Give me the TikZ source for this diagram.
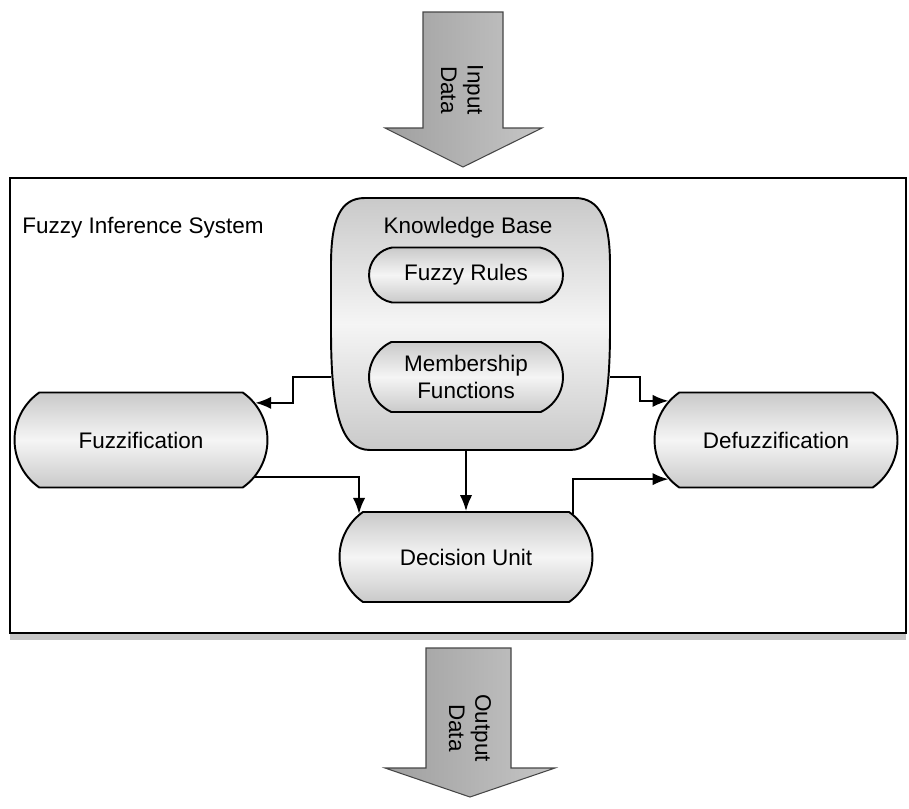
\documentclass[tikz,border=0pt]{standalone}
\usepackage{fontspec}
\setmainfont{Liberation Sans}
\usepackage{tikz}
\usetikzlibrary{shapes.misc,shadows,arrows.meta,calc}

\tikzset{
  grayfill/.style={top color=gray!42, bottom color=gray!42, middle color=gray!8},
  unit/.style={rounded rectangle, draw=black, line width=1.1pt, grayfill,
    font=\fontsize{12.8}{15}\selectfont, align=center, inner sep=0pt},
  txt/.style={font=\fontsize{12.8}{15}\selectfont, align=center, inner sep=0pt},
  flow/.style={draw=black, line width=1.1pt, -{Latex[length=9pt,width=7pt]}},
  bigarrow/.style={draw=gray!55!black, line width=0.6pt, left color=gray!75, right color=gray!45}
}

\begin{document}
\begin{tikzpicture}[x=0.02cm,y=-0.02cm]
\useasboundingbox (0,0) rectangle (909,808);

% input arrow
\draw[bigarrow] (423,12) -- (503,12) -- (503,128) -- (542,128) -- (463,167) -- (385,128) -- (423,128) -- cycle;
\node[txt,rotate=-90] (indata) at (462,90) {Input\\Data};

% the system frame
\draw[line width=1.2pt, fill=white, drop shadow={shadow xshift=0pt,shadow yshift=-4pt,opacity=0.45}] (10,178) rectangle (906,633);
\node[txt,anchor=west] (fis) at (22,228) {Fuzzy Inference System};

% knowledge base
\draw[line width=1.1pt, grayfill] (365,198) -- (575,198)
    .. controls (600,198) and (610,220) .. (610,265) -- (610,330)
    .. controls (610,410) and (600,450) .. (570,450) -- (370,450)
    .. controls (340,450) and (331,410) .. (331,330) -- (331,265)
    .. controls (331,220) and (340,198) .. (365,198) -- cycle;
\node[inner sep=0pt, minimum width=5.58cm, minimum height=5.04cm] (kb) at (470.5,324) {};
\node[txt] (kbtitle) at (468,228) {Knowledge Base};

\node[unit, minimum width=3.88cm, minimum height=1.1cm, rounded rectangle arc length=160] (fr) at (466,275) {Fuzzy Rules};
\node[unit, minimum width=3.88cm, minimum height=1.4cm, rounded rectangle arc length=130] (mf) at (466,377) {Membership\\Functions};

\node[unit, minimum width=5.06cm, minimum height=1.9cm, rounded rectangle arc length=110] (fz) at (141,440) {Fuzzification};
\node[unit, minimum width=4.86cm, minimum height=1.9cm, rounded rectangle arc length=110] (df) at (776,440) {Defuzzification};
\node[unit, minimum width=5.06cm, minimum height=1.8cm, rounded rectangle arc length=110] (du) at (466,557) {Decision Unit};

% connectors
\draw[flow] (kb.west |- mf.center) -- ++(-38,0) |- (fz.18);
\draw[flow] (kb.east |- mf.center) -- ++(30,0) |- (df.160);
\draw[flow] (fz.-18) -| (du.158);
\draw[flow] (kb.south -| du.north) -- (du.north);
\draw[flow] (du.22) |- (df.200);

% output arrow
\draw[bigarrow] (426,648) -- (511,648) -- (511,768) -- (555,768) -- (470,797) -- (385,768) -- (426,768) -- cycle;
\node[txt,rotate=-90] (outdata) at (470,728) {Output\\Data};

\end{tikzpicture}
\end{document}
